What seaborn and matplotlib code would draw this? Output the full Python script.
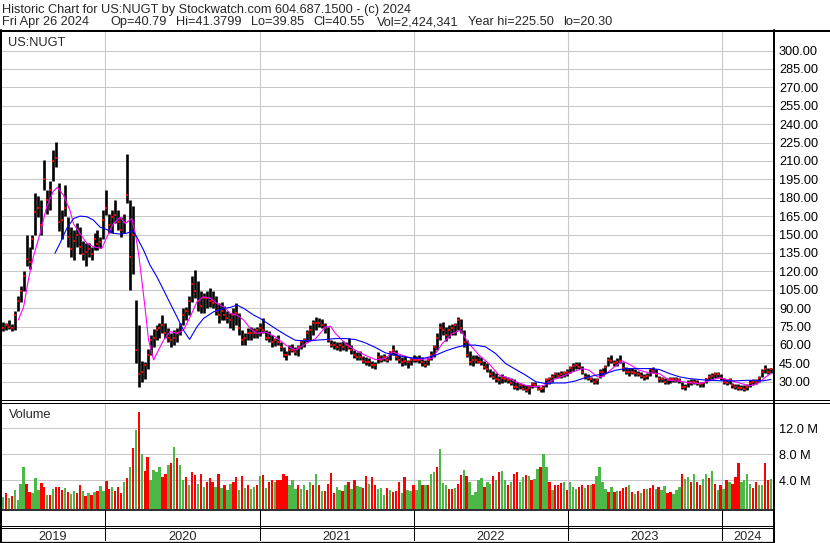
import matplotlib
matplotlib.use('Agg')
import matplotlib.pyplot as plt
from matplotlib.lines import Line2D
import numpy as np
import pandas as pd
import seaborn as sns

sns.set_style('white')
plt.rcParams['font.family'] = ['Liberation Sans', 'DejaVu Sans']

# ---- data (weekly bars) ----
start = pd.Timestamp('2019-04-26')
weeks = pd.date_range(start, periods=262, freq='7D')

hi = [80, 79, 78, 80, 77, 88, 100, 108, 120, 150,
      140, 150, 184, 181, 178, 211, 186, 194, 219, 225.5,
      192, 170, 190, 164, 156, 154, 159, 156, 145, 143,
      143, 140, 151, 154, 148, 170, 186, 167, 170, 178,
      170, 164, 167, 216, 178, 173, 97, 76, 47, 46,
      57, 68, 73, 76, 78, 84, 78, 74, 70, 72,
      74, 78, 90, 91, 100, 116, 121, 112, 104, 102,
      104, 106, 104, 100, 94, 95, 92, 88, 86, 90,
      94, 86, 72, 70, 74, 75, 74, 75, 78, 82,
      72, 71, 68, 66, 68, 62, 58, 55, 60, 61,
      58, 60, 64, 66, 72, 76, 80, 83, 82, 81,
      78, 75, 64, 63, 62, 62, 63, 62, 66, 60,
      56, 54, 55, 51, 50, 49, 47, 46, 54, 52,
      53, 51, 55, 60, 56, 52, 50, 51, 48, 50,
      52, 51, 52, 50, 48, 50, 55, 60, 70, 78,
      79, 75, 76, 77, 78, 83, 81, 72, 64, 55,
      52, 52, 51, 50, 47, 45, 40, 39, 37, 35,
      36, 35, 34, 33, 32, 30, 29, 28, 27, 27,
      30, 30, 27, 26, 27, 33, 34, 36, 38, 38,
      39, 39, 40, 43, 45, 46, 46, 43, 37, 36,
      34, 33, 33, 40, 41, 44, 50, 52, 48, 49,
      52, 46, 42, 41, 41, 40, 39, 38, 36, 37,
      41, 42, 40, 35, 34, 33, 33, 34, 34, 34,
      33, 30, 28, 31, 32, 32, 31, 30, 30, 33,
      36, 37, 38, 38, 36, 33, 32, 33, 29, 28,
      28, 27, 27, 28, 31, 32, 32, 35, 40, 44, 41, 41.38]

lo = [72, 71, 72, 73, 71, 72, 88, 95, 104, 124,
      122, 138, 150, 164, 150, 186, 167, 170, 194, 205,
      153, 146, 165, 140, 132, 129, 140, 134, 129, 124,
      132, 129, 137, 137, 139, 146, 166, 151, 151, 159,
      154, 148, 151, 176, 105, 118, 45, 26, 30, 32,
      40, 52, 58, 64, 66, 70, 66, 62, 58, 60,
      62, 68, 76, 80, 84, 95, 98, 88, 86, 86,
      90, 91, 90, 84, 78, 80, 80, 78, 74, 72,
      76, 68, 60, 60, 64, 64, 66, 66, 67, 70,
      64, 62, 58, 59, 60, 55, 50, 48, 52, 54,
      52, 51, 57, 58, 62, 64, 68, 72, 75, 74,
      70, 62, 58, 57, 56, 55, 56, 55, 57, 53,
      49, 48, 48, 45, 44, 43, 41, 40, 45, 46,
      47, 46, 48, 52, 48, 45, 43, 44, 41, 44,
      46, 46, 45, 43, 42, 44, 48, 50, 56, 64,
      68, 63, 66, 68, 68, 72, 70, 58, 50, 44,
      43, 45, 45, 44, 40, 38, 34, 32, 30, 28,
      29, 30, 29, 27, 24, 23, 24, 23, 21.5, 20.3,
      25, 26, 23, 22, 21.5, 26, 28, 30, 33, 33,
      33, 34, 35, 37, 39, 40, 40, 36, 32, 31,
      30, 28.5, 28.5, 33, 35, 37, 43, 45, 43, 43,
      45, 39, 36, 35, 36, 35, 35, 33, 31, 32,
      35, 37, 34, 30, 30, 28.5, 28.5, 29, 30, 30,
      29, 24, 23, 26, 27, 28, 27, 26, 26, 29,
      31, 32, 33, 33, 31, 28.5, 27, 28, 25, 24,
      23.5, 23, 22.5, 23, 26, 27, 28, 30, 34, 37, 36, 37]

close = [75, 74, 76, 75, 74, 84, 96, 104, 116, 130,
         128, 146, 168, 172, 158, 195, 178, 186, 210, 212,
         160, 162, 172, 148, 138, 145, 150, 140, 134, 136,
         138, 134, 146, 142, 144, 162, 172, 158, 164, 166,
         160, 154, 160, 182, 132, 150, 56, 36, 38, 44,
         52, 64, 66, 72, 74, 76, 70, 66, 64, 66,
         70, 76, 84, 88, 96, 110, 104, 96, 92, 98,
         98, 96, 94, 88, 84, 88, 84, 82, 80, 84,
         86, 74, 64, 66, 70, 70, 70, 72, 74, 72,
         66, 66, 62, 64, 62, 58, 52, 52, 56, 56,
         54, 58, 62, 64, 70, 72, 78, 78, 78, 76,
         74, 64, 60, 60, 58, 60, 58, 60, 58, 56,
         52, 50, 50, 47, 46, 46, 44, 44, 50, 48,
         50, 48, 54, 56, 50, 48, 46, 47, 46, 48,
         48, 48, 48, 46, 44, 48, 52, 58, 66, 74,
         72, 68, 72, 74, 76, 80, 74, 62, 52, 46,
         48, 48, 46, 46, 42, 40, 36, 34, 32, 31,
         33, 32, 31, 29, 26, 26, 27, 24, 23, 25,
         28, 27, 24, 24, 25, 31, 32, 34, 36, 35,
         36, 37, 38, 41, 43, 44, 42, 38, 34, 33,
         32, 30, 31, 38, 38, 42, 48, 47, 45, 46,
         47, 41, 38, 38, 38, 37, 36, 35, 34, 35,
         40, 39, 36, 32, 32, 30, 31, 32, 32, 32,
         31, 26, 26, 29, 30, 30, 29, 28, 29, 32,
         34, 35, 36, 36, 33, 30, 29, 31, 27, 26,
         25, 25, 24, 26, 29, 30, 30, 33, 38, 40, 38, 40.55]

# weekly volume in millions, r = down, g = up
volume = [3.2, 1.5, 2.0, 1.2, 1.6, 2.5, 1.0, 3.5, 6.0, 3.4,
          2.2, 2.0, 4.3, 2.5, 3.6, 3.0, 1.8, 1.8, 2.7, 3.0,
          3.0, 2.5, 2.8, 2.2, 1.9, 2.3, 2.0, 3.2, 2.3, 1.6,
          2.0, 1.7, 2.2, 2.3, 3.1, 2.4, 3.9, 2.6, 2.9, 2.3,
          3.0, 2.1, 3.8, 4.3, 6.0, 9.0, 11.8, 14.5, 8.0, 5.5,
          7.6, 4.0, 5.6, 5.3, 6.1, 4.5, 5.0, 6.3, 6.6, 9.2,
          7.5, 6.4, 4.0, 4.5, 3.3, 5.3, 4.8, 3.5, 5.0, 3.0,
          3.8, 4.3, 3.8, 3.0, 5.0, 2.8, 3.2, 2.5, 3.5, 3.8,
          4.5, 2.5, 4.6, 2.8, 3.3, 2.6, 3.0, 3.3, 4.7, 4.8,
          2.8, 3.7, 4.0, 3.8, 4.0, 4.0, 5.0, 4.6, 3.2, 4.0,
          2.6, 3.3, 2.7, 3.3, 2.5, 3.8, 3.2, 5.0, 3.2, 2.4,
          2.4, 3.4, 5.1, 2.0, 3.0, 2.5, 2.4, 3.2, 3.7, 2.7,
          4.0, 3.1, 3.0, 2.8, 4.7, 3.5, 4.5, 3.2, 2.6, 2.8,
          1.8, 2.8, 2.5, 2.2, 2.3, 3.8, 2.1, 4.5, 2.5, 2.4,
          3.3, 2.5, 4.0, 3.2, 3.2, 3.2, 4.9, 5.3, 6.0, 8.8,
          3.6, 3.3, 2.6, 2.7, 2.8, 3.5, 4.8, 5.6, 4.6, 3.8,
          1.8, 2.2, 4.0, 4.3, 3.0, 3.7, 3.5, 4.6, 4.0, 5.3,
          5.4, 4.0, 3.3, 3.8, 5.0, 5.2, 3.8, 4.5, 4.8, 4.6,
          4.0, 4.2, 5.8, 6.0, 8.0, 6.0, 3.7, 2.5, 3.3, 3.3,
          3.6, 3.8, 2.5, 3.8, 3.0, 2.6, 2.9, 3.2, 2.8, 3.2,
          3.2, 3.5, 4.6, 6.0, 3.8, 2.6, 2.2, 2.9, 2.2, 2.4,
          2.3, 2.8, 3.0, 3.3, 2.2, 1.9, 2.4, 2.1, 2.7, 2.6,
          2.8, 3.2, 2.6, 2.9, 2.5, 3.1, 2.0, 2.2, 1.9, 2.5,
          3.0, 5.0, 4.2, 4.5, 3.8, 5.0, 3.8, 3.3, 4.2, 5.0,
          4.3, 5.4, 3.5, 2.5, 3.2, 2.7, 4.0, 3.8, 3.5, 4.5,
          6.6, 3.7, 4.0, 5.0, 3.5, 2.8, 3.8, 3.3, 3.3, 6.6, 4.1, 4.2]
vol_dir = ("rgrgrggggr" "rgggrrgrgr" "rrgrggrrgr" "grgrggrrgr" "rrgrgrgrgr"
           "rggggrrgrg" "rggrgrrgrg" "rrrgrgrggr" "rgrgrggrgr" "grrgrrrrgg"
           "grggrgrgrg" "rrrrggrgrg" "rggrrgrrgg" "grgrrrgrgg" "rggrgrggrg"
           "ggrrgrrgrg" "ggggrggrgr" "ggrgrrggrg" "rggrggrgrr" "rgrgggrrgr"
           "grggggrgrg" "rrrgrgrgrg" "rrgrggrrgg" "grggrgrrgg" "rgrgrgrgrr"
           "rggggrrggrrg")

# moving averages, position in weeks from start
ma_fast_wk = [6.2, 8, 9.6, 11.3, 13.6, 15.8, 18, 19.4, 21.5, 23.7,
              24.9, 27, 29.4, 31.6, 34.5, 36.2, 38.4, 40.7, 42.4, 44.6,
              45.8, 46.9, 48, 49.2, 50.3, 52, 53.7, 55.4, 57.6, 59.9,
              62.1, 64.4, 66.7, 68.9, 71.2, 73.4, 75.7, 78, 80.2, 82.5,
              84.7, 87, 89.8, 93.3, 96.8, 100, 103.4, 106.8, 110.2, 111.9,
              113.6, 117, 120.3, 123.7, 127.1, 130.5, 132.8, 136.2, 139.5, 142.9,
              146.3, 149.7, 153.1, 155.9, 158.8, 162.2, 165.5, 169, 172.3, 174.6,
              178, 181.4, 184.2, 187, 190.4, 193.9, 197.3, 199.4, 202.3, 204,
              207.3, 210.7, 213.6, 216.4, 219.8, 223.2, 226.6, 230, 233.3, 236.7,
              240.1, 243.5, 246.9, 250.3, 253.7, 256.5, 259.3, 261]
ma_fast = [80.3, 91, 113, 132, 151, 172.7, 185, 188.4, 182, 169.6,
           158.7, 151, 142.8, 140, 138.7, 148, 159, 164, 159, 163,
           151, 134.7, 113, 88.4, 64, 47.7, 56, 64, 70.8, 69.4,
           72, 83, 95.2, 99.3, 98, 93.9, 91, 85.7, 84.3, 80.3,
           73.5, 69.4, 70.6, 66.5, 59.8, 55.7, 61, 65, 74.7, 75.2,
           69.3, 61, 55.7, 51.6, 48, 48.9, 54.3, 51.6, 48.9, 48.3,
           48.9, 61, 69.3, 72, 61, 51.6, 44.8, 35.3, 32.6, 30,
           27, 25.8, 27, 31.2, 34.5, 38, 40.7, 39.4, 34, 34,
           40.7, 47, 43.5, 39.4, 37.2, 36.7, 31.2, 30.4, 29.3, 28.5,
           30.7, 33.4, 31.2, 29, 26.6, 28.5, 34, 36.7]

ma_slow_wk = [18.6, 20.3, 22.6, 24.9, 27.1, 29.4, 31.6, 33.9, 36.2, 38.4,
              40.7, 42.9, 45, 46.3, 48.6, 50.8, 53.1, 55.4, 57.6, 59.9,
              62.1, 64.2, 66.7, 68.9, 72.3, 75.7, 78, 80.2, 82.5, 85.9,
              88.1, 89.8, 93.3, 96.8, 100, 103.4, 106.8, 110.2, 113.6, 117,
              120.3, 123.7, 127.1, 130.5, 133.9, 137.3, 140.7, 144.1, 147.5, 150.9,
              154.3, 157.6, 161, 164.4, 167.8, 171.2, 174.6, 178, 181.4, 184.7,
              188.1, 191.5, 194.9, 198.3, 201.7, 205.1, 208.5, 211.9, 215.3, 219.8,
              223.2, 226.6, 230, 233.3, 236.7, 240.1, 244.6, 248.7, 253.7, 258.2, 261]
ma_slow = [134.7, 142.8, 155, 163, 165, 164.5, 161.8, 156, 154, 151,
           150.4, 151, 153, 148, 137.3, 125, 115.6, 104.7, 93.9, 83,
           72, 64.5, 74.8, 81.6, 87, 89.8, 90.6, 92.5, 89.8, 84.3,
           81.6, 78.8, 73.3, 68, 63.8, 63.3, 63.8, 64.4, 65.2, 65.2,
           64.4, 61.7, 57.9, 53.5, 51.6, 50.2, 48.9, 49.4, 51.6, 55.1,
           57.9, 59.8, 59.8, 58.4, 53, 44.8, 40, 35.3, 30, 28.5,
           29, 29, 30.7, 33.4, 35.3, 36.7, 39.4, 40.7, 40.7, 40.7,
           40, 36.7, 34, 32.6, 31.8, 31.2, 30.7, 30.7, 31.2, 30.7, 31.8]

years = [2019, 2020, 2021, 2022, 2023, 2024]
price_ticks = list(range(30, 301, 15))
vol_ticks = [4, 8, 12]

header1 = "Historic Chart for US:NUGT by Stockwatch.com 604.687.1500 - (c) 2024"
header2 = ["Fri Apr 26 2024", "Op=40.79", "Hi=41.3799", "Lo=39.85", "Cl=40.55",
           "Vol=2,424,341", "Year hi=225.50", "lo=20.30"]
header2_x = [2, 110, 173, 248, 313, 377]   # the rest follow on

# ---- layout helpers (pixel based) ----
W, H = 830, 543
fig = plt.figure(figsize=(W / 100, H / 100), dpi=100)
fig.patch.set_facecolor('white')


def rect(x0, y0, x1, y1):
    return [x0 / W, 1 - y1 / H, (x1 - x0) / W, (y1 - y0) / H]


def hline(y, x0, x1, lw=1.0):
    fig.add_artist(Line2D([x0 / W, x1 / W], [1 - y / H, 1 - y / H],
                          transform=fig.transFigure, color='black', lw=lw * 0.72))


def vline(x, y0, y1, lw=1.0):
    fig.add_artist(Line2D([x / W, x / W], [1 - y0 / H, 1 - y1 / H],
                          transform=fig.transFigure, color='black', lw=lw * 0.72))


xmin, xmax = pd.Timestamp('2019-04-26'), pd.Timestamp('2024-05-01')
bounds = [pd.Timestamp(f'{y}-01-01') for y in years[1:]]
grid_c = '#c8c8c8'
fs = 9.2

ax = fig.add_axes(rect(0, 31, 773, 400))
axv = fig.add_axes(rect(0, 403, 773, 509))
axb = fig.add_axes(rect(0, 510, 773, 541))
for a in (ax, axv, axb):
    a.set_xlim(xmin, xmax)
    for s in a.spines.values():
        s.set_visible(False)
    a.set_xticks([])
    a.set_facecolor('white')

# ---- price panel ----
ax.set_ylim(15.1, 315.9)
for p in price_ticks:
    ax.axhline(p, color=grid_c, lw=0.75, zorder=0)
for b in bounds:
    ax.axvline(b, color=grid_c, lw=0.75, zorder=0)

ax.vlines(weeks, lo, hi, color='black', lw=1.9, zorder=2)
ax.plot(weeks, close, 's', color='red', ms=1.5, mew=0, zorder=3)
fast_dates = start + pd.to_timedelta(np.array(ma_fast_wk) * 7, unit='D')
slow_dates = start + pd.to_timedelta(np.array(ma_slow_wk) * 7, unit='D')
sns.lineplot(x=fast_dates, y=ma_fast, ax=ax, color='#ff00ff', lw=0.8, zorder=4)
sns.lineplot(x=slow_dates, y=ma_slow, ax=ax, color='#0000ff', lw=0.8, zorder=4)

ax.yaxis.tick_right()
ax.set_yticks(price_ticks)
ax.set_yticklabels([f'{p:.2f}' for p in price_ticks])
ax.tick_params(axis='y', length=0, pad=4.3, labelsize=fs, colors='#000000')
ax.set_ylabel('')
ax.text(8 / 773, 1 - 15 / 369, 'US:NUGT', transform=ax.transAxes, fontsize=fs,
        va='baseline', ha='left')

# ---- volume panel ----
axv.set_ylim(-0.42, 15.9)
for v in vol_ticks:
    axv.axhline(v, color=grid_c, lw=0.75, zorder=0)
for b in bounds:
    axv.axvline(b, color=grid_c, lw=0.75, zorder=0)
bar_colors = ['#ff0000' if c == 'r' else '#4cb848' for c in vol_dir]
axv.bar(weeks, np.array(volume) + 0.42, bottom=-0.42, width=5.6,
        color=bar_colors, linewidth=0, zorder=2)
axv.yaxis.tick_right()
axv.set_yticks(vol_ticks)
axv.set_yticklabels([f'{v:.1f} M' for v in vol_ticks])
axv.tick_params(axis='y', length=0, pad=4.3, labelsize=fs, colors='#000000')
axv.text(9 / 773, 1 - 15.3 / 106, 'Volume', transform=axv.transAxes, fontsize=fs,
         va='baseline', ha='left')

# ---- year band ----
axb.set_ylim(0, 1)
axb.set_yticks([])
for b in bounds:
    axb.axvline(b, color='black', lw=0.75)
edges = [xmin] + bounds + [xmax]
for yr, a, b in zip(years, edges[:-1], edges[1:]):
    axb.text(a + (b - a) / 2, 1 - 30 / 31, str(yr), ha='center', va='baseline',
             fontsize=fs)

# ---- frame lines ----
hline(30.5, 0, W, lw=2)
vline(1, 30, 542, lw=2)
vline(773.8, 30, 543, lw=2)
hline(400, 0, W)
hline(402.5, 0, W)
hline(510, 0, 774, lw=1.6)
hline(525.5, 0, 774)
hline(527.5, 0, 774)
hline(541.8, 0, 774, lw=1.3)

# ---- header ----
fig.text(2 / W, 1 - 13.3 / H, header1, fontsize=fs, va='baseline', ha='left')
renderer = fig.canvas.get_renderer()
x = 2
for i, txt in enumerate(header2):
    if i < len(header2_x):
        x = max(x, header2_x[i])
    t = fig.text(x / W, 1 - 25.3 / H, txt, fontsize=fs, va='baseline', ha='left')
    x = t.get_window_extent(renderer).x1 + 9.5

fig.savefig('out.png', dpi=100)
